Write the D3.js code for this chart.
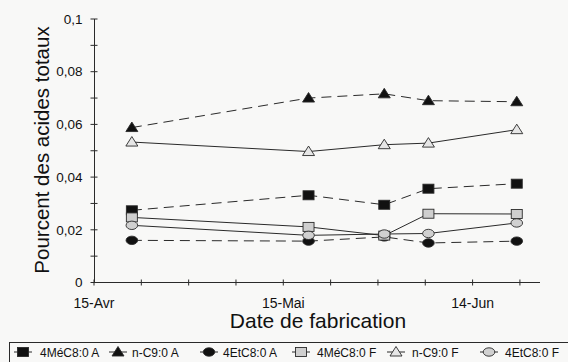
<!DOCTYPE html>
<html><head><meta charset="utf-8">
<script src="https://cdn.jsdelivr.net/npm/d3@7"></script>
<style>body{margin:0;background:#f8f8f7}svg{display:block;font-family:"Liberation Sans",Arial,sans-serif}</style>
</head><body><svg id="c" width="568" height="362"></svg>
<script>
// ---- data ----
const dates = ["2000-04-21","2000-05-19","2000-05-31","2000-06-07","2000-06-21"];
const seriesNames = ["4MéC8:0 A","n-C9:0 A","4EtC8:0 A","4MéC8:0 F","n-C9:0 F","4EtC8:0 F"];
const meC8A = [0.0274,0.0331,0.0295,0.0356,0.0375];
const nC9A  = [0.0588,0.0700,0.0716,0.0690,0.0686];
const etC8A = [0.0160,0.0157,0.0173,0.0150,0.0157];
const meC8F = [0.0247,0.0211,0.0178,0.0261,0.0260];
const nC9F  = [0.0533,0.0497,0.0523,0.0529,0.0580];
const etC8F = [0.0217,0.0179,0.0184,0.0186,0.0226];
const yTickValues = [0,0.02,0.04,0.06,0.08,0.1];
const yTickLabels = ["0","0,02","0,04","0,06","0,08","0,1"];
const xTickDates = ["2000-04-15","2000-05-15","2000-06-14"];
const xTickLabels = ["15-Avr","15-Mai","14-Jun"];
const xDomain = ["2000-04-15","2000-06-25"];
const yTitle = "Pourcent des acides totaux";
const xTitle = "Date de fabrication";

// ---- styles ----
const styles = [
  {shape:"square", fill:"#111", dash:"10,6"},
  {shape:"triangle", fill:"#111", dash:"10,6"},
  {shape:"ellipse", fill:"#111", dash:"10,6"},
  {shape:"square", fill:"#cfcfcf", dash:null},
  {shape:"triangle", fill:"#e6e6e6", dash:null},
  {shape:"ellipse", fill:"#d0d0d0", dash:null}
];
const values = [meC8A,nC9A,etC8A,meC8F,nC9F,etC8F];

const svg = d3.select("#c");
const parse = d3.utcParse("%Y-%m-%d");
const x = d3.scaleUtc().domain(xDomain.map(parse)).range([94,542]);
const y = d3.scaleLinear().domain([0,0.1]).range([282.5,19]);
const ink = "#2a2a2a";

// axes
const day = 86400000;
const x0 = parse(xDomain[0]);
const minorX = d3.range(0, 71, 7.5).map(d => new Date(+x0 + d*day));
const gx = svg.append("g").attr("transform","translate(0,282.5)");
gx.append("line").attr("x1",94).attr("x2",540).attr("stroke",ink).attr("stroke-width",1);
gx.selectAll("line.t").data(minorX).join("line").attr("class","t")
  .attr("x1",d=>x(d)).attr("x2",d=>x(d)).attr("y1",-3).attr("y2",3).attr("stroke",ink);
gx.selectAll("text").data(xTickDates).join("text")
  .attr("x",d=>x(parse(d))).attr("y",25).attr("text-anchor","middle")
  .attr("font-size",14).attr("fill","#111").text((d,i)=>xTickLabels[i]);

const gy = svg.append("g").attr("transform","translate(94.5,0)");
gy.append("line").attr("y1",y(0)).attr("y2",y(0.1)).attr("stroke",ink);
gy.selectAll("line.t").data(d3.range(0,0.1001,0.01)).join("line").attr("class","t")
  .attr("x1",-4).attr("x2",3).attr("y1",d=>y(d)).attr("y2",d=>y(d)).attr("stroke",ink);
gy.selectAll("text").data(yTickValues).join("text")
  .attr("x",-12).attr("y",d=>y(d)).attr("dy","0.35em").attr("text-anchor","end")
  .attr("font-size",13.5).attr("fill","#111").text((d,i)=>yTickLabels[i]);

// titles
svg.append("text").attr("transform","translate(49,150) rotate(-90)").attr("text-anchor","middle")
  .attr("font-size",20.5).attr("fill","#111").text(yTitle);
svg.append("text").attr("x",318).attr("y",328).attr("text-anchor","middle")
  .attr("font-size",21).attr("fill","#111").text(xTitle);

function marker(g, shape, fill, cx, cy){
  if(shape==="square") g.append("rect").attr("x",cx-5.5).attr("y",cy-4.5).attr("width",11).attr("height",9)
      .attr("fill",fill).attr("stroke",ink).attr("stroke-width",0.9);
  else if(shape==="triangle") g.append("path").attr("d",`M${cx},${cy-5.5}L${cx+6},${cy+4}L${cx-6},${cy+4}Z`)
      .attr("fill",fill).attr("stroke",ink).attr("stroke-width",0.9);
  else g.append("ellipse").attr("cx",cx).attr("cy",cy).attr("rx",5.8).attr("ry",4.2)
      .attr("fill",fill).attr("stroke",ink).attr("stroke-width",0.9);
}

const line = d3.line().x((d,i)=>x(parse(dates[i]))).y(d=>y(d));
values.forEach((vals,k)=>{
  const g = svg.append("g");
  g.append("path").attr("d",line(vals)).attr("fill","none").attr("stroke",ink).attr("stroke-width",1)
    .attr("stroke-dasharray",styles[k].dash);
  vals.forEach((v,i)=>marker(g, styles[k].shape, styles[k].fill, x(parse(dates[i])), y(v)));
});

// legend
svg.append("rect").attr("x",9.5).attr("y",342.5).attr("width",580).attr("height",40)
  .attr("fill","none").attr("stroke",ink).attr("stroke-width",1);
const legMarkX = [23,118,209,301,396,489];
const legTextX = [40,132,223,317,412,505];
seriesNames.forEach((name,k)=>{
  const g = svg.append("g");
  g.append("line").attr("x1",legMarkX[k]-9).attr("x2",legMarkX[k]+9).attr("y1",352).attr("y2",352)
    .attr("stroke",ink).attr("stroke-width",1);
  marker(g, styles[k].shape, styles[k].fill, legMarkX[k], 352);
  g.append("text").attr("x",legTextX[k]).attr("y",356.5).attr("font-size",12).attr("fill","#111").text(name);
});
</script></body></html>
